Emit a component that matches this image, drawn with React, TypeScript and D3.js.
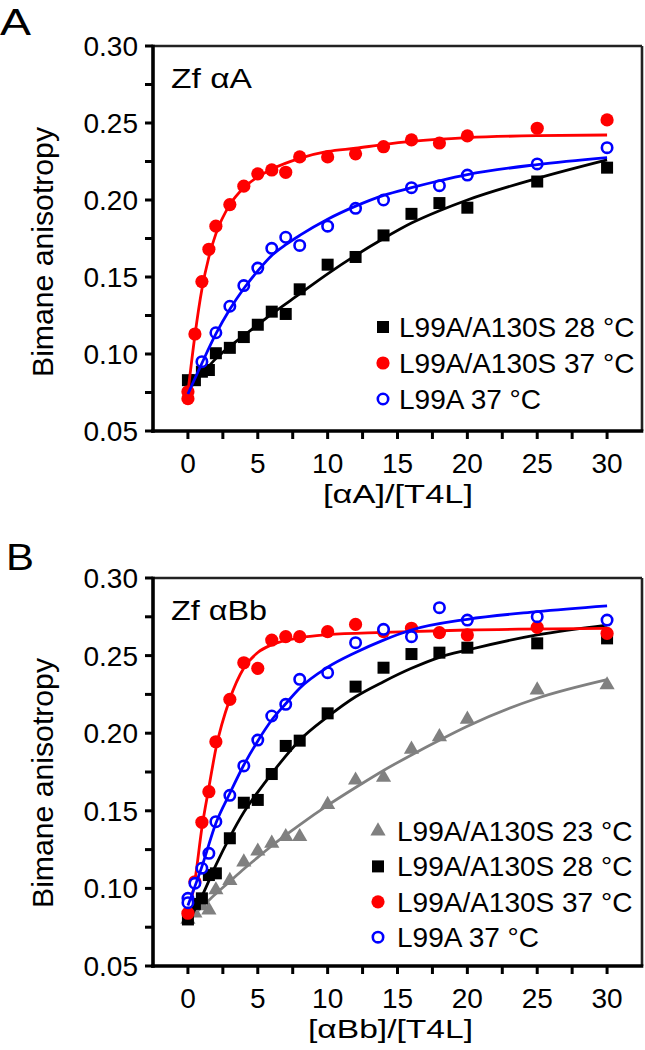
import React from "react";
import * as d3 from "d3";

// ---------- data ----------
const X_MAJOR = [0, 5, 10, 15, 20, 25, 30];
const X_MINOR = [2.5, 7.5, 12.5, 17.5, 22.5, 27.5];
const Y_MAJOR = [0.05, 0.1, 0.15, 0.2, 0.25, 0.3];
const Y_MINOR = [0.075, 0.125, 0.175, 0.225, 0.275];
const Y_TICK_LABELS = ["0.05", "0.10", "0.15", "0.20", "0.25", "0.30"];

// Panel A (Zf alphaA)
const aBlackX = [0, 0.5, 1, 1.5, 2, 3, 4, 5, 6, 7, 8, 10, 12, 14, 16, 18, 20, 25, 30];
const aBlackY = [0.083, 0.083, 0.0885, 0.0896, 0.1005, 0.104, 0.111, 0.119, 0.1275, 0.126, 0.142, 0.158, 0.163, 0.177, 0.191, 0.198, 0.195, 0.212, 0.221];
const aRedX = [0, 0, 0.5, 1, 1.5, 2, 3, 4, 5, 6, 7, 8, 10, 12, 14, 16, 18, 20, 25, 30];
const aRedY = [0.071, 0.0755, 0.113, 0.147, 0.168, 0.183, 0.197, 0.209, 0.217, 0.2195, 0.218, 0.228, 0.228, 0.23, 0.2346, 0.239, 0.237, 0.2416, 0.2466, 0.252];
const aBlueX = [1, 2, 3, 4, 5, 6, 7, 8, 10, 12, 14, 16, 18, 20, 25, 30];
const aBlueY = [0.095, 0.1138, 0.131, 0.1444, 0.1558, 0.1686, 0.1758, 0.1705, 0.183, 0.1946, 0.2, 0.208, 0.2093, 0.2162, 0.2234, 0.234];

const aBlackFitX = [0, 1, 2, 3, 4, 5, 6, 8, 10, 12, 14, 16, 18, 20, 25, 30];
const aBlackFitY = [0.077, 0.087, 0.097, 0.105, 0.112, 0.119, 0.126, 0.139, 0.152, 0.164, 0.175, 0.185, 0.193, 0.2, 0.214, 0.226];
const aRedFitX = [0, 0.5, 1, 1.5, 2, 3, 4, 5, 6, 8, 10, 12, 14, 16, 20, 25, 30];
const aRedFitY = [0.075, 0.112, 0.142, 0.163, 0.178, 0.197, 0.208, 0.215, 0.22, 0.227, 0.2315, 0.2336, 0.236, 0.238, 0.2405, 0.2418, 0.2422];
const aBlueFitX = [0, 1, 2, 3, 4, 5, 6, 7, 8, 10, 12, 14, 16, 18, 20, 25, 30];
const aBlueFitY = [0.074, 0.094, 0.113, 0.129, 0.1425, 0.154, 0.164, 0.171, 0.177, 0.1875, 0.196, 0.203, 0.208, 0.2125, 0.2165, 0.223, 0.2275];

// Panel B (Zf alphaBb)
const bGrayX = [0, 0.5, 1, 1.5, 2, 3, 4, 5, 6, 7, 8, 10, 12, 14, 16, 18, 20, 25, 30];
const bGrayY = [0.08, 0.084, 0.0887, 0.086, 0.099, 0.105, 0.117, 0.124, 0.129, 0.1333, 0.1333, 0.154, 0.1697, 0.1715, 0.1896, 0.1977, 0.2089, 0.2278, 0.2311];
const bBlackX = [0, 0.5, 1, 1.5, 2, 3, 4, 5, 6, 7, 8, 10, 12, 14, 16, 18, 20, 25, 30];
const bBlackY = [0.08, 0.09, 0.0936, 0.1086, 0.1097, 0.1323, 0.1552, 0.157, 0.1737, 0.1918, 0.1952, 0.2128, 0.23, 0.2422, 0.251, 0.2519, 0.2551, 0.2579, 0.2611];
const bRedX = [0, 0.5, 1, 1.5, 2, 3, 4, 5, 6, 7, 8, 10, 12, 14, 16, 18, 20, 25, 30];
const bRedY = [0.084, 0.1043, 0.1426, 0.1623, 0.1945, 0.2218, 0.2454, 0.2418, 0.26, 0.2622, 0.2622, 0.2654, 0.2701, 0.2654, 0.2676, 0.2648, 0.2633, 0.2682, 0.2643];
const bBlueX = [0, 0, 0.5, 1, 1.5, 2, 3, 4, 5, 6, 7, 8, 10, 12, 14, 16, 18, 20, 25, 30];
const bBlueY = [0.0936, 0.0908, 0.1033, 0.113, 0.1226, 0.143, 0.16, 0.1789, 0.1956, 0.2111, 0.2186, 0.2347, 0.239, 0.2583, 0.2669, 0.2622, 0.2809, 0.2729, 0.2751, 0.2729];

const bGrayFitX = [0, 1, 2, 3, 4, 5, 6, 8, 10, 12, 14, 16, 18, 20, 25, 30];
const bGrayFitY = [0.0795, 0.088, 0.0965, 0.1045, 0.1125, 0.12, 0.1275, 0.141, 0.1535, 0.165, 0.176, 0.186, 0.1955, 0.2045, 0.2225, 0.2345];
const bBlackFitX = [0, 1, 2, 3, 4, 5, 6, 8, 10, 12, 14, 16, 18, 20, 25, 30];
const bBlackFitY = [0.0785, 0.095, 0.115, 0.133, 0.149, 0.162, 0.174, 0.1955, 0.2106, 0.2235, 0.2332, 0.2418, 0.2489, 0.2536, 0.2633, 0.2697];
const bRedFitX = [0, 0.5, 1, 1.5, 2, 3, 4, 5, 6, 8, 10, 14, 20, 30];
const bRedFitY = [0.082, 0.105, 0.139, 0.165, 0.19, 0.222, 0.242, 0.252, 0.257, 0.2615, 0.2635, 0.265, 0.2665, 0.2675];
const bBlueFitX = [0, 1, 2, 3, 4, 5, 6, 7, 8, 10, 12, 14, 16, 20, 25, 30];
const bBlueFitY = [0.089, 0.114, 0.142, 0.1613, 0.1795, 0.195, 0.2085, 0.219, 0.229, 0.2425, 0.252, 0.26, 0.2665, 0.2734, 0.2783, 0.282];

const LEGEND_A = ["L99A/A130S 28 °C", "L99A/A130S 37 °C", "L99A 37 °C"];
const LEGEND_B = ["L99A/A130S 23 °C", "L99A/A130S 28 °C", "L99A/A130S 37 °C", "L99A 37 °C"];

// ---------- styles ----------
const FONT = "Arial, 'Liberation Sans', Helvetica, sans-serif";
const STYLE: Record<string, { color: string; shape: string }> = {
  gray: { color: "#808080", shape: "triangle" },
  black: { color: "#000000", shape: "square" },
  red: { color: "#ff0000", shape: "circle" },
  blue: { color: "#0000ff", shape: "ring" },
};

type Series = { key: string; xs: number[]; ys: number[]; fx: number[]; fy: number[] };

function Marker({ shape, color, x, y }: { shape: string; color: string; x: number; y: number }) {
  if (shape === "square") return <rect x={x - 6} y={y - 6} width={12} height={12} fill={color} />;
  if (shape === "circle") return <circle cx={x} cy={y} r={6.6} fill={color} />;
  if (shape === "ring") return <circle cx={x} cy={y} r={5.2} fill="#fff" stroke={color} strokeWidth={2.6} />;
  const tri = d3.symbol().type(d3.symbolTriangle).size(100)() as string;
  return <path d={tri} transform={`translate(${x},${y})`} fill={color} />;
}

function Panel({
  top, bottom, letter, letterX, letterY, label, labelX, labelLen, yLabelY, title, titleLen, series, legend,
  legendX, legendTextX, legendY0, legendDy,
}: {
  top: number; bottom: number; letter: string; letterX: number; letterY: number; label: string; labelX: number;
  labelLen: number; yLabelY: number; title: string; titleLen: number;
  series: Series[]; legend: string[]; legendX: number; legendTextX: number; legendY0: number; legendDy: number;
}) {
  const left = 153, right = 642;
  const x = d3.scaleLinear().domain([-2.5, 32.5]).range([left, right]);
  const y = d3.scaleLinear().domain([0.05, 0.3]).range([bottom, top]);
  const line = d3.line<[number, number]>().x((d) => x(d[0])).y((d) => y(d[1])).curve(d3.curveMonotoneX);
  return (
    <g fontFamily={FONT}>
      <text x={letterX} y={letterY} fontSize={36} textLength={letter === "A" ? 31 : 28} lengthAdjust="spacingAndGlyphs">{letter}</text>
      {/* frame */}
      <line x1={left} x2={right} y1={top} y2={top} stroke="#222" strokeWidth={2.6} />
      <line x1={right} x2={right} y1={top} y2={bottom} stroke="#222" strokeWidth={2.6} />
      <line x1={left} x2={left} y1={top - 1.3} y2={bottom + 1.8} stroke="#000" strokeWidth={3.6} />
      <line x1={left - 1.8} x2={right + 1.3} y1={bottom} y2={bottom} stroke="#000" strokeWidth={3.6} />
      {/* y ticks */}
      {[...Y_MAJOR, ...Y_MINOR].map((v) => (
        <line key={"yt" + v} x1={left - 8} x2={left} y1={y(v)} y2={y(v)} stroke="#000" strokeWidth={3} />
      ))}
      {Y_MAJOR.map((v, i) => (
        <text key={"yl" + v} x={138} y={y(v) + 10} fontSize={28} textAnchor="end">{Y_TICK_LABELS[i]}</text>
      ))}
      {/* x ticks */}
      {[...X_MAJOR, ...X_MINOR].map((v) => (
        <line key={"xt" + v} x1={x(v)} x2={x(v)} y1={bottom} y2={bottom + 8} stroke="#000" strokeWidth={3} />
      ))}
      {X_MAJOR.map((v) => (
        <text key={"xl" + v} x={x(v)} y={bottom + 41.5} fontSize={28} textAnchor="middle">{String(v)}</text>
      ))}
      <text x={labelX} y={bottom + 72} fontSize={25.5} textLength={labelLen} lengthAdjust="spacingAndGlyphs">{label}</text>
      <text transform={`translate(53,${yLabelY}) rotate(-90)`} fontSize={29} textAnchor="middle"
        textLength={250} lengthAdjust="spacingAndGlyphs">Bimane anisotropy</text>
      <text x={171} y={top + 42} fontSize={27} textLength={titleLen} lengthAdjust="spacingAndGlyphs">{title}</text>
      {/* data */}
      {series.map((s) => {
        const st = STYLE[s.key];
        const pts = s.xs.map((xv, i) => [xv, s.ys[i]] as [number, number]);
        const fit = s.fx.map((xv, i) => [xv, s.fy[i]] as [number, number]);
        return (
          <g key={s.key}>
            {pts.map((p, i) => (
              <Marker key={i} shape={st.shape} color={st.color} x={x(p[0])} y={y(p[1])} />
            ))}
            <path d={line(fit) as string} fill="none" stroke={st.color} strokeWidth={2.8} />
          </g>
        );
      })}
      {/* legend */}
      {legend.map((t, i) => {
        const st = STYLE[series[i].key];
        const by = legendY0 + i * legendDy;
        return (
          <g key={t}>
            <Marker shape={st.shape} color={st.color} x={legendX} y={by - 10} />
            <text x={legendTextX} y={by} fontSize={28}>{t}</text>
          </g>
        );
      })}
    </g>
  );
}

export default function App() {
  const seriesA: Series[] = [
    { key: "black", xs: aBlackX, ys: aBlackY, fx: aBlackFitX, fy: aBlackFitY },
    { key: "red", xs: aRedX, ys: aRedY, fx: aRedFitX, fy: aRedFitY },
    { key: "blue", xs: aBlueX, ys: aBlueY, fx: aBlueFitX, fy: aBlueFitY },
  ];
  const seriesB: Series[] = [
    { key: "gray", xs: bGrayX, ys: bGrayY, fx: bGrayFitX, fy: bGrayFitY },
    { key: "black", xs: bBlackX, ys: bBlackY, fx: bBlackFitX, fy: bBlackFitY },
    { key: "red", xs: bRedX, ys: bRedY, fx: bRedFitX, fy: bRedFitY },
    { key: "blue", xs: bBlueX, ys: bBlueY, fx: bBlueFitX, fy: bBlueFitY },
  ];
  return (
    <svg width={645} height={1050} style={{ position: "absolute", left: 0, top: 0, background: "#fff" }}>
      <rect width={645} height={1050} fill="#fff" />
      <Panel top={46} bottom={431} letter="A" letterX={0} letterY={35} label="[αA]/[T4L]" labelX={323} labelLen={150}
        yLabelY={252} title="Zf αA" titleLen={81}
        series={seriesA} legend={LEGEND_A} legendX={383} legendTextX={399} legendY0={337} legendDy={36} />
      <Panel top={578} bottom={966} letter="B" letterX={6} letterY={570} label="[αBb]/[T4L]" labelX={308} labelLen={165}
        yLabelY={783} title="Zf αBb" titleLen={96}
        series={seriesB} legend={LEGEND_B} legendX={378} legendTextX={397} legendY0={841} legendDy={35.4} />
    </svg>
  );
}
